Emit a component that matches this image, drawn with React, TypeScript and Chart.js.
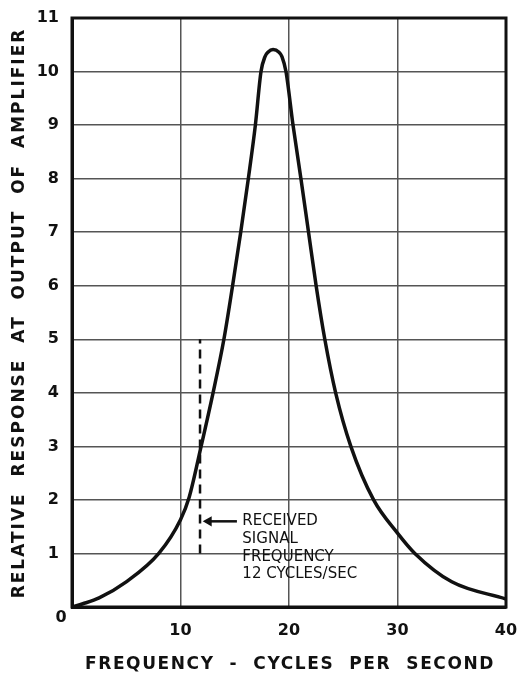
import { useEffect, useRef } from 'react';
import { Chart, registerables } from 'chart.js';

Chart.register(...registerables);

// Frequency (cycles/sec) and relative response
const freq = [0, 1, 2.5, 5, 8.0, 10, 10.8, 11.9, 13.0, 14.0, 14.8, 15.55, 16.25, 16.9, 17.42, 17.79, 18.06, 18.53, 19.08, 19.35, 19.72, 20.37, 21.1, 21.8, 22.5, 23.3, 24.3, 25.7, 27.8, 30, 31.6, 35, 40];
const response = [0, 0.06, 0.17, 0.47, 1.0, 1.63, 2.05, 3, 4, 5, 6, 7, 8, 9, 10, 10.28, 10.36, 10.41, 10.36, 10.28, 10, 9, 8, 7, 6, 5, 4, 3, 2, 1.38, 1.0, 0.47, 0.15];

// Received signal marker (dashed) and arrow
const markerX = [11.8, 11.8];
const markerY = [1, 5];
const arrowX = [15.2, 12.6];
const arrowY = [1.6, 1.6];
const noteLines = ['RECEIVED', 'SIGNAL', 'FREQUENCY', '12 CYCLES/SEC'];
const noteX = 15.7;
const noteY = 1.6;

const xTickValues = [0, 10, 20, 30, 40];
const yTickValues = [0, 1, 2, 3, 4, 5, 6, 7, 8, 9, 10, 11];
const xTitle = 'FREQUENCY  -  CYCLES  PER  SECOND';
const yTitle = 'RELATIVE  RESPONSE  AT  OUTPUT  OF  AMPLIFIER';

const INK = '#111111';
const FONT = '"DejaVu Sans", sans-serif';

const decorPlugin = {
  id: 'decor',
  afterDatasetsDraw(chart: any) {
    const { ctx, chartArea } = chart;
    ctx.save();
    ctx.strokeStyle = INK;
    ctx.lineWidth = 3;
    ctx.strokeRect(chartArea.left, chartArea.top, chartArea.right - chartArea.left, chartArea.bottom - chartArea.top);
    ctx.restore();
  },
  afterDraw(chart: any) {
    const { ctx } = chart;
    const xs = chart.scales.x;
    const ys = chart.scales.y;
    ctx.save();
    ctx.fillStyle = INK;
    // shared origin label
    ctx.font = `bold 16px ${FONT}`;
    ctx.textAlign = 'center';
    ctx.textBaseline = 'middle';
    ctx.fillText('0', xs.getPixelForValue(0) - 11, ys.getPixelForValue(0) + 11);

    // note text
    ctx.font = `15px ${FONT}`;
    ctx.textAlign = 'left';
    const nx = xs.getPixelForValue(noteX);
    const ny = ys.getPixelForValue(noteY);
    noteLines.forEach((t, i) => ctx.fillText(t, nx, ny + i * 17.7));

    // axis titles
    (ctx as any).letterSpacing = '1.6px';
    ctx.font = `bold 17px ${FONT}`;
    ctx.textAlign = 'center';
    ctx.fillText(xTitle, 290, 665);
    (ctx as any).letterSpacing = '2px';
    ctx.translate(20, 313);
    ctx.rotate(-Math.PI / 2);
    ctx.fillText(yTitle, 0, 0);
    ctx.restore();
  },
};

export default function App() {
  const ref = useRef<HTMLCanvasElement>(null);
  useEffect(() => {
    document.body.style.margin = '0';
    const chart = new Chart(ref.current!, {
      type: 'scatter',
      data: {
        datasets: [
          {
            data: freq.map((x, i) => ({ x, y: response[i] })),
            showLine: true,
            borderColor: INK,
            borderWidth: 3.5,
            pointRadius: 0,
            cubicInterpolationMode: 'monotone',
          },
          {
            data: markerX.map((x, i) => ({ x, y: markerY[i] })),
            showLine: true,
            borderColor: INK,
            borderWidth: 2.5,
            borderDash: [9, 6],
            pointRadius: 0,
          },
          {
            data: arrowX.map((x, i) => ({ x, y: arrowY[i] })),
            showLine: true,
            borderColor: INK,
            borderWidth: 2.5,
            backgroundColor: INK,
            pointStyle: 'triangle',
            pointRotation: -90,
            pointRadius: [0, 6],
            pointBorderWidth: 0,
          },
        ],
      } as any,
      options: {
        animation: false,
        responsive: true,
        maintainAspectRatio: false,
        layout: { padding: { top: 18, right: 16, left: 0, bottom: 0 } },
        plugins: { legend: { display: false }, tooltip: { enabled: false } },
        scales: {
          x: {
            type: 'linear',
            min: 0,
            max: 40,
            afterBuildTicks: (s: any) => { s.ticks = xTickValues.map((v) => ({ value: v })); },
            afterFit: (s: any) => { s.height = 70; s.paddingRight = 0; s.paddingLeft = 0; },
            ticks: {
              callback: (v: any) => (v === 0 ? '' : String(v)),
              color: INK,
              font: { family: FONT, size: 16, weight: 'bold' },
              padding: 14,
              maxRotation: 0,
            },
            grid: { color: '#555', lineWidth: 1.5, drawTicks: false },
            border: { display: true, color: INK, width: 3 },
          },
          y: {
            type: 'linear',
            min: 0,
            max: 11,
            afterBuildTicks: (s: any) => { s.ticks = yTickValues.map((v) => ({ value: v })); },
            afterFit: (s: any) => { s.width = 72; s.paddingTop = 0; s.paddingBottom = 0; },
            ticks: {
              callback: (v: any) => (v === 0 ? '' : String(v)),
              color: INK,
              font: { family: FONT, size: 16, weight: 'bold' },
              padding: 13,
            },
            grid: { color: '#555', lineWidth: 1.5, drawTicks: false },
            border: { display: true, color: INK, width: 3 },
          },
        },
      } as any,
      plugins: [decorPlugin],
    });
    return () => chart.destroy();
  }, []);
  return (
    <div style={{ position: 'absolute', left: 0, top: 0, width: 522, height: 677, background: '#fff' }}>
      <canvas ref={ref} />
    </div>
  );
}
